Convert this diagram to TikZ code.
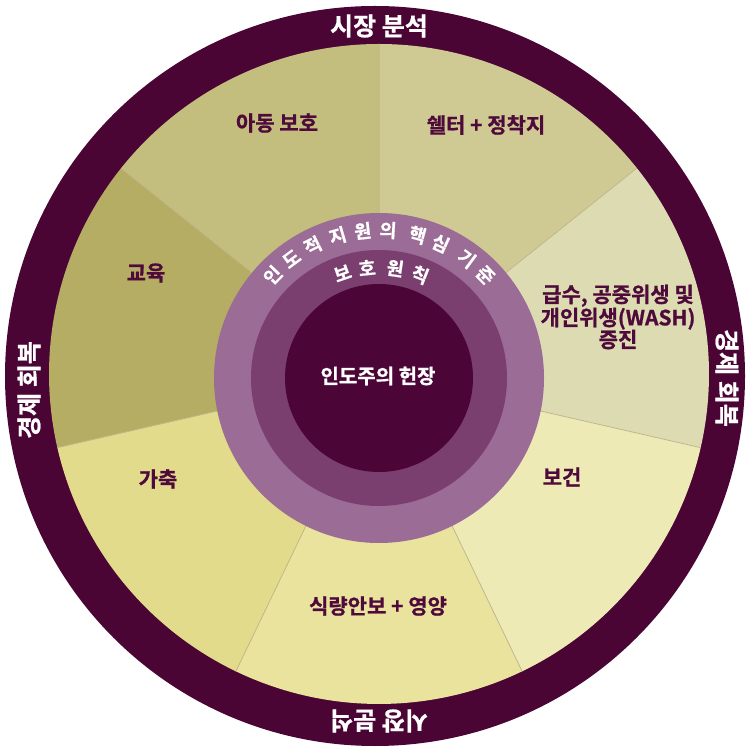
\documentclass[tikz,border=0pt]{standalone}
\usepackage{fontspec}
\newfontfamily\kr{Noto Sans CJK KR Bold}[FakeBold=0.8]
\usetikzlibrary{calc}
\definecolor{outerc}{HTML}{4A0535}
\definecolor{ringA}{HTML}{9B6C95}
\definecolor{ringB}{HTML}{7A3F6E}
\definecolor{ringC}{HTML}{4B0536}
\definecolor{labc}{HTML}{4E0A3A}
\definecolor{sA}{HTML}{C3BE7D}
\definecolor{sB}{HTML}{CFCA94}
\definecolor{sC}{HTML}{DCDBB2}
\definecolor{sD}{HTML}{EEEAB6}
\definecolor{sE}{HTML}{E9E39E}
\definecolor{sF}{HTML}{E3DB8C}
\definecolor{sG}{HTML}{B5AD64}
\definecolor{bline}{HTML}{C4B98E}
\tikzset{
  lab/.style={text=labc, font=\kr\fontsize{21}{22}\selectfont, inner sep=0pt, align=center},
  ctxt/.style={text=white, font=\kr\fontsize{20}{22}\selectfont, inner sep=0pt},
  otxt/.style={text=white, font=\kr\fontsize{25}{26}\selectfont, inner sep=0pt},
  rtxt/.style={text=white, font=\kr\fontsize{18.5}{20}\selectfont, inner sep=0pt},
  sepline/.style={draw=bline, line width=0.8pt}
}
\begin{document}
\begin{tikzpicture}[x=1pt,y=1pt]
\useasboundingbox (0,0) rectangle (749,747);
\coordinate (O) at (375,371);
\coordinate (L) at (379,373);
\coordinate (R) at (379,369);
% outer ring
\fill[outerc] (O) circle (370);
% sectors
\foreach \sa/\ea/\col in {90/141.4/sA, 38.6/90/sB, -12.9/38.6/sC, -64.3/-12.9/sD, -115.7/-64.3/sE, -167.1/-115.7/sF, 141.4/192.9/sG}{
  \fill[\col] (L) -- ([shift={(\sa:330)}]L) arc[start angle=\sa, end angle=\ea, radius=330] -- cycle;
}
\foreach \a in {90, 38.6, -12.9, -64.3, -115.7, -167.1, 141.4}{
  \draw[sepline] (L) -- ([shift={(\a:330)}]L);
}
% rings
\fill[ringA] (R) circle (165);
\fill[ringB] (R) circle (128);
\fill[ringC] (R) circle (94);
% sector labels
\node[lab] (a1) at (277,624) {아동 보호};
\node[lab] (a2) at (486,622) {쉘터 + 정착지};
\node[lab] (a3) at (618,430) {급수, 공중위생 및\\개인위생(WASH)\\증진};
\node[lab] (a4) at (562,270) {보건};
\node[lab] (a5) at (378,141) {식량안보 + 영양};
\node[lab] (a6) at (158,268) {가축};
\node[lab] (a7) at (146,474) {교육};
% centre
\node[ctxt] (c0) at (378,371) {인도주의 헌장};
% outer ring texts
\node[otxt] (o1) at (379,721) {시장 분석};
\node[otxt, rotate=180] (o2) at (379,26) {시장 분석};
\node[otxt, rotate=90] (o3) at (29,357) {경제 회복};
\node[otxt, rotate=-90] (o4) at (727,369) {경제 회복};
% curved ring texts
\foreach \a/\c [count=\i] in {136/인, 126.3/도, 116.6/적, 106.2/지, 96.3/원, 86.5/의, 74.9/핵, 65.4/심, 53.7/기, 44/준}{
  \node[rtxt, rotate=\a-90] (r\i) at ([shift={(\a:148)}]R) {\c};
}
\foreach \a/\c [count=\i] in {109.2/보, 96.2/호, 81.6/원, 68.3/칙}{
  \node[rtxt, rotate=\a-90] (p\i) at ([shift={(\a:111)}]R) {\c};
}
\end{tikzpicture}
\end{document}
